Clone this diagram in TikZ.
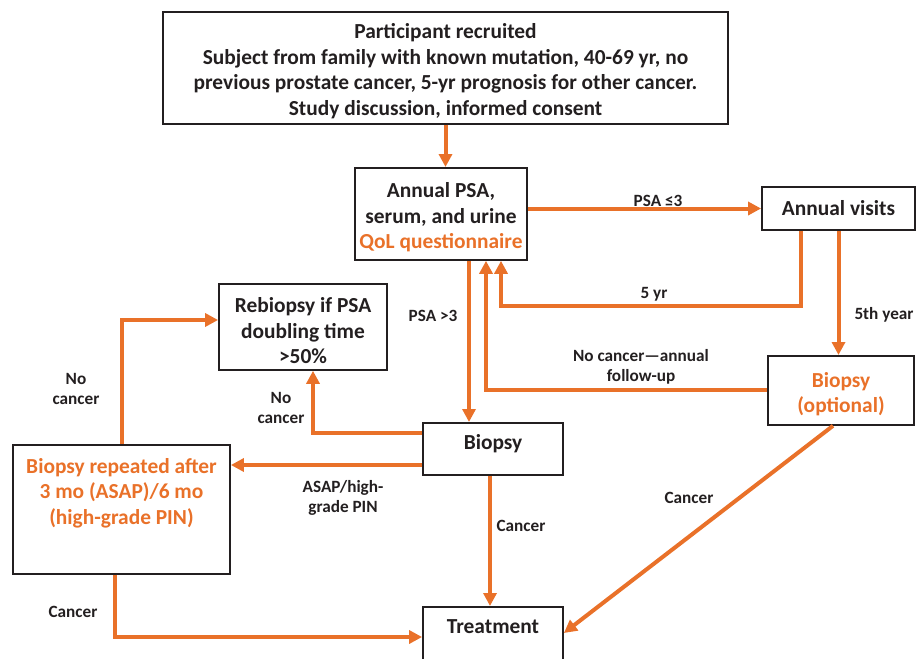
\documentclass[tikz,border=0pt]{standalone}
\usepackage{fontspec}
\setmainfont{Carlito}
\usetikzlibrary{arrows.meta}
\definecolor{org}{RGB}{233,113,41}
\definecolor{ink}{RGB}{35,31,32}
\begin{document}
\begin{tikzpicture}[x=1pt,y=-1pt,
  box/.style={draw=ink, line width=1.8pt, inner sep=0pt, align=center, font=\bfseries\fontsize{21.4}{25.5}\selectfont, text=ink},
  flow/.style={draw=org, line width=4pt, -{Triangle[length=13pt,width=13pt]}},
  lbl/.style={font=\bfseries\fontsize{17.2}{20}\selectfont, text=ink, align=center, inner sep=0pt}]
\clip (0,0) rectangle (917,658);
% boxes
\node[box, minimum width=565pt, anchor=north, text height=103.5pt, text depth=8.5pt] (top) at (445.5,11) {Participant recruited\\Subject from family with known mutation, 40-69 yr, no\\previous prostate cancer, 5-yr prognosis for other cancer.\\Study discussion, informed consent};
\node[box, minimum width=172pt, anchor=north, text height=81pt, text depth=11pt] (psa) at (441,167) {Annual PSA,\\serum, and urine\\\textcolor{org}{QoL questionnaire}};
\node[box, minimum width=153pt, minimum height=43pt] (visits) at (838.5,208.5) {Annual visits};
\node[box, minimum width=146pt, anchor=north, text height=57pt, text depth=12pt, text=org] (optb) at (841,355) {Biopsy\\(optional)};
\node[box, minimum width=168pt, anchor=north, text height=80pt, text depth=6pt] (rebx) at (303,283) {Rebiopsy if PSA\\doubling time\\>50\%};
\node[box, minimum width=140pt, anchor=north, text height=27pt, text depth=25pt] (biopsy) at (493,422) {Biopsy};
\node[box, minimum width=217pt, anchor=north, text height=79.5pt, text depth=49.5pt, text=org] (rep) at (121.5,444) {Biopsy repeated after\\3 mo (ASAP)/6 mo\\(high-grade PIN)};
\node[box, minimum width=140pt, anchor=north, text height=27pt, text depth=45pt] (treat) at (493,606) {Treatment};
% helper coordinates
\coordinate (a5) at (801,306);
\coordinate (b5) at (501,306);
\coordinate (cup) at (486,0);
\coordinate (dn) at (469,0);
\coordinate (nc) at (313,433);
\coordinate (as) at (0,465);
\coordinate (rn) at (122,320);
\coordinate (cx) at (490,0);
\coordinate (rc) at (115,637);
\coordinate (dg) at (833,0);
\coordinate (dt) at (0,633);
% connectors
\draw[flow] (top.south) -- (top.south |- psa.north);
\draw[flow] (psa.east |- visits.west) -- (visits.west);
\draw[flow] (visits.south -| a5) -- (a5) -- (b5) -- (b5 |- psa.south);
\draw[flow] (visits.south) -- (visits.south |- optb.north);
\draw[flow] (optb.west) -- (optb.west -| cup) -- (cup |- psa.south);
\draw[flow] (psa.south -| dn) -- (dn |- biopsy.north);
\draw[flow] (biopsy.west |- nc) -- (nc) -- (nc |- rebx.south);
\draw[flow] (biopsy.west |- as) -- (rep.east |- as);
\draw[flow] (rep.north -| rn) -- (rn) -- (rn -| rebx.west);
\draw[flow] (biopsy.south -| cx) -- (cx |- treat.north);
\draw[flow] (rep.south -| rc) -- (rc) -- (rc -| treat.west);
\draw[flow] (optb.south -| dg) -- (treat.east |- dt);
% labels
\node[lbl] (l1) at (658,201) {PSA ≤3};
\node[lbl] (l2) at (654,294) {5 yr};
\node[lbl] (l3) at (884,315) {5th year};
\node[lbl] (l4) at (641,367) {No cancer—annual\\follow-up};
\node[lbl] (l5) at (433,316) {PSA >3};
\node[lbl] (l6) at (281,408) {No\\cancer};
\node[lbl] (l7) at (343,498) {ASAP/high-\\grade PIN};
\node[lbl] (l8) at (76,389) {No\\cancer};
\node[lbl] (l9) at (521,526) {Cancer};
\node[lbl] (l10) at (73,612) {Cancer};
\node[lbl] (l11) at (689,498) {Cancer};
\end{tikzpicture}
\end{document}
